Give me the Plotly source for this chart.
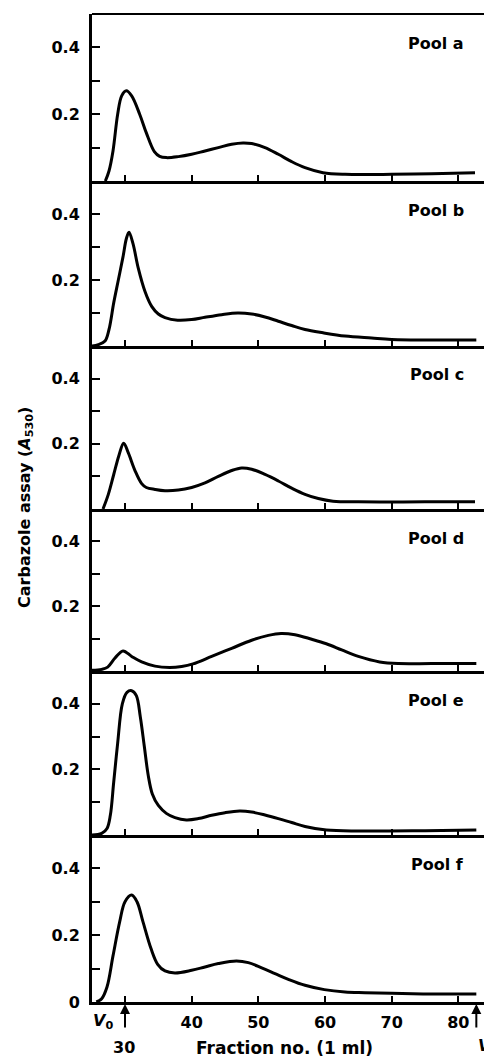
import plotly.graph_objects as go
from plotly.subplots import make_subplots

# Carbazole assay (A530) of column fractions, six pools
pool_names = ["Pool a", "Pool b", "Pool c", "Pool d", "Pool e", "Pool f"]

frac_a = [27.05, 27.6, 28.2, 28.9, 29.5, 30.2, 31.0, 32.2, 33.2, 34.4, 35.2, 36.2, 38, 40, 42, 44, 46, 47.7,
          49, 51, 53, 55, 57, 59.7, 63, 70, 76, 82.5]
val_a = [0.0, 0.03, 0.09, 0.20, 0.255, 0.27, 0.255, 0.20, 0.144, 0.088, 0.074, 0.07, 0.073, 0.08, 0.09, 0.10,
         0.11, 0.114, 0.112, 0.10, 0.08, 0.058, 0.04, 0.025, 0.02, 0.02, 0.022, 0.025]

frac_b = [25, 26, 27.0, 27.6, 28.3, 29.0, 29.7, 30.2, 30.6, 31.2, 32.0, 33.0, 34.0, 35.0, 36.0, 37.9, 40, 42,
          44.5, 46.9, 49, 51, 53, 55, 57, 59.7, 63, 67, 70, 76, 82.7]
val_b = [0.0, 0.004, 0.015, 0.05, 0.13, 0.20, 0.27, 0.325, 0.345, 0.31, 0.235, 0.165, 0.12, 0.097, 0.086,
         0.078, 0.08, 0.087, 0.095, 0.10, 0.097, 0.088, 0.075, 0.062, 0.05, 0.04, 0.03, 0.024, 0.02, 0.018,
         0.018]

frac_c = [26.7, 27.5, 28.3, 29.1, 29.8, 30.5, 31.5, 32.5, 33.2, 34.5, 36, 38, 40, 42, 44, 46, 47.5, 49, 51,
          53, 55, 57, 59, 61.2, 65, 75, 82.5]
val_c = [0.0, 0.045, 0.105, 0.165, 0.202, 0.172, 0.118, 0.078, 0.066, 0.06, 0.056, 0.058, 0.066, 0.08, 0.10,
         0.118, 0.126, 0.122, 0.106, 0.086, 0.064, 0.045, 0.032, 0.024, 0.022, 0.022, 0.022]

frac_d = [25, 26.5, 27.4, 28.5, 29.7, 31, 32.5, 34.5, 36.7, 38.5, 40.2, 43, 46, 49, 51.5, 53.4, 55.5, 58,
          60.2, 62.5, 65, 68.2, 71, 76, 82.7]
val_d = [0.002, 0.005, 0.012, 0.04, 0.062, 0.045, 0.028, 0.015, 0.011, 0.014, 0.022, 0.045, 0.07, 0.095,
         0.11, 0.116, 0.112, 0.098, 0.084, 0.065, 0.045, 0.028, 0.023, 0.023, 0.023]

frac_e = [25, 26.5, 27.3, 27.8, 28.3, 28.9, 29.6, 30.3, 31.0, 31.7, 32.3, 32.9, 33.5, 34.1, 35.0, 36.2, 37.5,
          39.2, 41, 43, 45, 47.2, 49, 51, 53, 55, 57, 60.2, 65, 75, 82.7]
val_e = [0.0, 0.005, 0.02, 0.06, 0.16, 0.28, 0.40, 0.435, 0.44, 0.425, 0.36, 0.27, 0.18, 0.125, 0.09, 0.066,
         0.053, 0.046, 0.05, 0.06, 0.068, 0.073, 0.07, 0.061, 0.05, 0.038, 0.026, 0.015, 0.012, 0.013, 0.015]

frac_f = [25.7, 26.5, 27.3, 28.2, 29.2, 30.0, 31.0, 31.8, 32.7, 33.9, 34.9, 36, 37.5, 40, 42, 44, 46.7, 48.5,
          50.5, 52.5, 54.5, 57, 59.9, 63, 66, 70, 76, 82.7]
val_f = [0.0, 0.01, 0.045, 0.138, 0.24, 0.30, 0.32, 0.30, 0.24, 0.16, 0.113, 0.093, 0.087, 0.095, 0.105,
         0.115, 0.123, 0.118, 0.102, 0.085, 0.068, 0.05, 0.037, 0.03, 0.028, 0.026, 0.024, 0.024]

fractions = [frac_a, frac_b, frac_c, frac_d, frac_e, frac_f]
values = [val_a, val_b, val_c, val_d, val_e, val_f]

x_ticks = [30, 40, 50, 60, 70, 80]
x_tick_text = ["", "40", "50", "60", "70", "80"]
y_ticks = [0.1, 0.2, 0.3, 0.4]
y_tick_text = ["", "0.2", "", "0.4"]
v0_fraction = 30
vt_fraction = 82.7

FONT = "DejaVu Sans"
TXT = dict(family=FONT, size=16, color="black", weight="bold")
W, H = 484, 1057
M_L, M_R, M_T, M_B = 92, 0, 14, 55
X_RANGE = [25.05, 83.85]
# panel edges in pixels from the top of the page
edges = [14, 181, 346, 509, 671, 835, 1002]
plot_h = H - M_T - M_B

fig = make_subplots(rows=6, cols=1, vertical_spacing=0)

for i in range(6):
    fig.add_trace(
        go.Scatter(x=fractions[i], y=values[i], mode="lines",
                   line=dict(color="black", width=3, shape="spline", smoothing=1.0),
                   showlegend=False, hoverinfo="skip"),
        row=i + 1, col=1)
    top_px, bot_px = edges[i], edges[i + 1]
    dom = [(1002 - bot_px) / plot_h, (1002 - top_px) / plot_h]
    last = i == 5
    yk = "yaxis" if i == 0 else f"yaxis{i + 1}"
    xk = "xaxis" if i == 0 else f"xaxis{i + 1}"
    fig.layout[yk].update(
        domain=dom, range=[0, 0.5], fixedrange=True,
        tickvals=([0] if last else []) + y_ticks,
        ticktext=(["0"] if last else []) + y_tick_text,
        ticks="inside", ticklen=8, tickwidth=2, tickcolor="black",
        showline=True, linewidth=3, linecolor="black",
        showgrid=False, zeroline=False,
        tickfont=TXT, ticklabelstandoff=6,
    )
    fig.layout[xk].update(
        range=X_RANGE, fixedrange=True,
        tickvals=x_ticks, ticktext=x_tick_text,
        showticklabels=last,
        ticks="inside", ticklen=6, tickwidth=2, tickcolor="black",
        showline=True, linewidth=2.5, linecolor="black",
        showgrid=False, zeroline=False,
        tickfont=TXT, ticklabelstandoff=4,
    )
    # pool label in the upper right of each panel
    fig.add_annotation(
        text=pool_names[i], xref=xk.replace("axis", ""), yref="paper",
        x=81.1, y=dom[1], yshift=-29, xanchor="right", yanchor="middle",
        showarrow=False, font=TXT)

# frame line along the top of the first panel
fig.add_shape(type="line", xref="paper", yref="paper", x0=0, x1=1, y0=1, y1=1,
              line=dict(color="black", width=2))

# V0 and Vt markers under the bottom axis
for xv in (v0_fraction, vt_fraction):
    fig.add_annotation(x=xv, y=0, xref="x6", yref="y6", text="", showarrow=True,
                       arrowhead=2, arrowsize=1, arrowwidth=2, arrowcolor="black",
                       ax=0, ay=27, standoff=2)

fig.add_annotation(text="<i>V</i><sub>0</sub>", x=0, y=0, xref="paper", yref="paper",
                   xshift=-1, yshift=-19, xanchor="left", yanchor="middle", showarrow=False,
                   font=TXT)
fig.add_annotation(text="30", x=29.9, y=0, xref="x6", yref="paper", yshift=-45,
                   xanchor="center", yanchor="middle", showarrow=False, font=TXT)
fig.add_annotation(text="Fraction no. (1 ml)", x=53.9, y=0, xref="x6", yref="paper",
                   yshift=-46, xanchor="center", yanchor="middle", showarrow=False,
                   font=dict(TXT, size=17))
fig.add_annotation(text="<i>V</i><sub>t</sub>", x=82.6, y=0, xref="x6", yref="paper",
                   yshift=-44, xanchor="left", yanchor="middle", showarrow=False, font=TXT)

# shared y-axis title
fig.add_annotation(text="Carbazole assay (<i>A</i><sub>530</sub>)", textangle=-90,
                   xref="paper", yref="paper", x=(25 - M_L) / (W - M_L - M_R),
                   y=(1002 - 508) / plot_h, xanchor="center", yanchor="middle",
                   showarrow=False, font=dict(TXT, size=16))

fig.update_layout(
    width=W, height=H,
    margin=dict(l=M_L, r=M_R, t=M_T, b=M_B),
    plot_bgcolor="white", paper_bgcolor="white",
    font=dict(family=FONT, color="black"),
)

fig.write_html("out.html", config={"displayModeBar": False})
